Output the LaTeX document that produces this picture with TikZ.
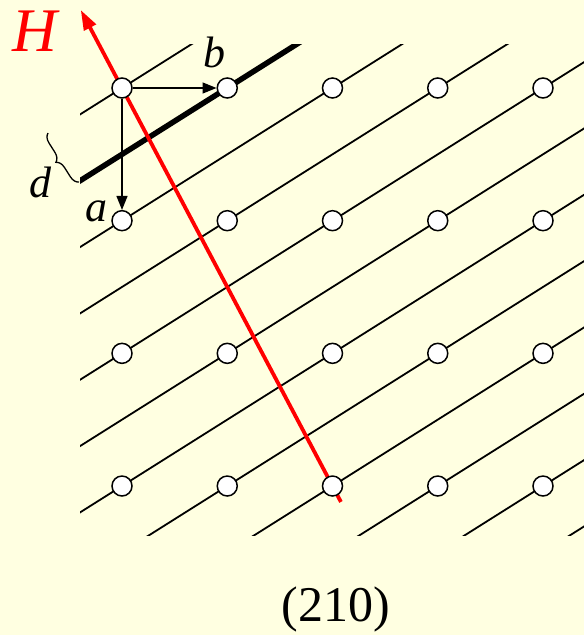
\documentclass[tikz,border=0pt]{standalone}
\usepackage{fontspec}
\setmainfont{Liberation Serif}
\usetikzlibrary{arrows.meta,calc,decorations.pathreplacing}
\definecolor{paper}{RGB}{255,255,225}
\tikzset{
	site/.style = {circle, draw, fill = white, inner sep = 0pt, minimum size = 20pt, line width = 1.5pt},
	plane/.style = {line width = 1.8pt},
	vec/.style = {line width = 1.4pt, -{Triangle[length = 14pt, width = 11pt]}},
	lab/.style = {font = \fontsize{44}{48}\selectfont\itshape}
}
\begin{document}
\begin{tikzpicture}[x = 1pt, y = -1pt]
	\fill [paper] (0,0) rectangle (584,635);
	\useasboundingbox (0,0) rectangle (584,635);
	\begin{scope}
		\clip (80,44) rectangle (600,535);
		\foreach \k in {0,...,11}
			\draw [plane] ({122-4*105.25},{88+66.33*\k+4*66.33}) -- ++({10*105.25},{-10*66.33});
		\draw [line width = 5.5pt] ({122-4*105.25},{88+66.33+4*66.33}) -- ++({10*105.25},{-10*66.33});
	\end{scope}
	\foreach \i in {0,...,4}
		\foreach \j in {0,...,3}
			\coordinate (c-\i-\j) at ({122+105.25*\i},{88+132.67*\j});
	\draw [red, line width = 3.8pt, -{Triangle[length = 20pt, width = 13pt]}] ($(c-2-3)!-0.04!(c-0-0)$) -- ($(c-0-0)!-0.196!(c-2-3)$);
	\foreach \i in {0,...,4}
		\foreach \j in {0,...,3}
			\node [site] (p-\i-\j) at (c-\i-\j) {};
	\draw [vec] (p-0-0) -- (p-1-0);
	\draw [vec] (p-0-0) -- (p-0-1);
	\coordinate (dlow) at (79,182);
	\coordinate (dup) at (48,133);
	\draw [line width = 1.3pt, decorate, decoration = {brace, amplitude = 9pt}] (dlow) -- (dup);
	\node [lab] (b) at (214,52) {b};
	\node [lab] (a) at (96,211) {a};
	\node [lab] (d) at (40,182) {d};
	\node [lab, red, font = \fontsize{62}{66}\selectfont\itshape] (H) at (35,31) {H};
	\node [font = \fontsize{50}{54}\selectfont] (hkl) at (336,609) {(210)};
\end{tikzpicture}
\end{document}
